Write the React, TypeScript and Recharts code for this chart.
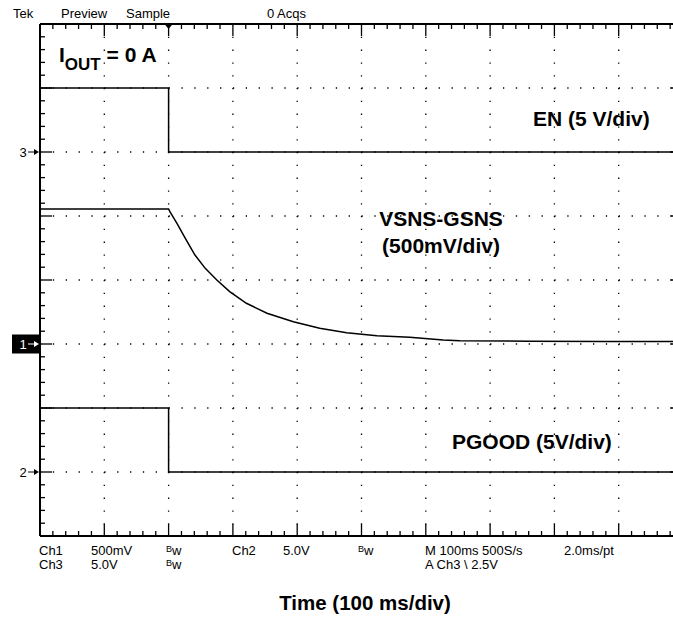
import { LineChart, Line, XAxis, YAxis, CartesianGrid, ReferenceDot, ReferenceLine } from 'recharts';

// scope time base: 100 ms/div, 10 divisions; 8 vertical divisions
const majorTimeTicks = [0, 100, 200, 300, 400, 500, 600, 700, 800, 900, 1000];
const minorTimeTicks = Array.from({ length: 51 }, (_, i) => i * 20);
const majorDivTicks = [0, 1, 2, 3, 4, 5, 6, 7, 8];
const minorDivTicks = Array.from({ length: 41 }, (_, i) => Math.round(i * 2) / 10);

// channel order: EN (ch3), VSNS-GSNS (ch1), PGOOD (ch2)
const channelMarkers = ['3', '1', '2'];
const channelRefDivs = [6, 3, 1];
const channelVoltsPerDiv = [5, 0.5, 5];
const selectedMarker = '1';

const enTimeMs = [0, 200, 200, 1000];
const enVolts = [5, 5, 0, 0];

const vsnsTimeMs = [0, 200, 202, 213, 226, 241, 257, 275, 295, 321, 353, 394, 435, 477, 524, 575, 627, 653, 760, 880, 1000];
const vsnsVolts = [1.055, 1.055, 1.034, 0.943, 0.826, 0.695, 0.591, 0.5, 0.409, 0.318, 0.24, 0.174, 0.123, 0.088, 0.065, 0.052, 0.031, 0.026, 0.022, 0.02, 0.02];

const pgoodTimeMs = [0, 200, 200, 1000];
const pgoodVolts = [5, 5, 0, 0];

const triggerTimeMs = 200;

const toTrace = (times: number[], volts: number[], ch: number) =>
  times.map((t, i) => ({ t, div: channelRefDivs[ch] + volts[i] / channelVoltsPerDiv[ch] }));

const enData = toTrace(enTimeMs, enVolts, 0);
const vsnsData = toTrace(vsnsTimeMs, vsnsVolts, 1);
const pgoodData = toTrace(pgoodTimeMs, pgoodVolts, 2);

const FRAME = '#000';
const SCOPE_FONT = '"Liberation Sans", Arial, sans-serif';

const isMajor = (v: number) => Math.abs(v - Math.round(v)) < 1e-6;

// tick marks on the graticule frame point inward; longer at each division
const makeEdgeTick = (dx: number, dy: number, perDiv: number) => (props: any) => {
  const { x, y, payload } = props;
  const len = isMajor(payload.value / perDiv) ? 12 : 5;
  return <line x1={x} y1={y} x2={x + dx * len} y2={y + dy * len} stroke={FRAME} strokeWidth={1.3} />;
};

const BottomTick = makeEdgeTick(0, -1, 100);
const TopTick = makeEdgeTick(0, 1, 100);
const LeftTick = makeEdgeTick(1, 0, 1);
const RightTick = makeEdgeTick(-1, 0, 1);

const ChannelMarker = (props: any) => {
  const { cx, cy, label } = props;
  const selected = label === selectedMarker;
  const color = selected ? '#fff' : '#000';
  return (
    <g>
      {selected && <rect x={cx - 28} y={cy - 9.5} width={27} height={19} fill="#000" />}
      <text x={cx - 17} y={cy + 4.5} textAnchor="middle" fontSize={13} fontFamily={SCOPE_FONT} fill={color}>
        {label}
      </text>
      <line x1={cx - 12} x2={cx - 3} y1={cy} y2={cy} stroke={color} strokeWidth={1} />
      <path d={`M${cx - 6},${cy - 3}L${cx - 1},${cy}L${cx - 6},${cy + 3}Z`} fill={color} />
    </g>
  );
};

const TriggerMark = (props: any) => {
  const { cx, cy } = props;
  return <path d={`M${cx - 5},${cy - 1}L${cx + 5},${cy - 1}L${cx},${cy + 5}Z`} fill="#000" />;
};

const edgeAxis = {
  type: 'number' as const,
  axisLine: false,
  tickLine: false,
  tickSize: 0,
  tickMargin: 0,
  mirror: true,
  interval: 0 as const,
  allowDataOverflow: true,
};

function Bw({ x, y }: { x: number; y: number }) {
  return (
    <text x={x} y={y} fontSize={13} fontFamily={SCOPE_FONT}>
      <tspan fontSize={9} dy={-3}>B</tspan>
      <tspan dy={3}>w</tspan>
    </text>
  );
}

export default function App() {
  return (
    <div style={{ position: 'absolute', left: 0, top: 0, width: 673, height: 618, overflow: 'hidden', background: '#fff' }}>
      <LineChart width={690} height={618} margin={{ top: 24, right: 7, bottom: 82, left: 40 }}>
        <XAxis {...edgeAxis} dataKey="t" domain={[0, 1000]} ticks={minorTimeTicks} orientation="bottom" height={1} tick={<BottomTick />} />
        <XAxis {...edgeAxis} xAxisId="top" dataKey="t" domain={[0, 1000]} ticks={minorTimeTicks} orientation="top" height={1} tick={<TopTick />} />
        <YAxis {...edgeAxis} domain={[0, 8]} ticks={minorDivTicks} orientation="left" width={1} tick={<LeftTick />} />
        <YAxis {...edgeAxis} yAxisId="right" domain={[0, 8]} ticks={minorDivTicks} orientation="right" width={1} tick={<RightTick />} />
        <CartesianGrid vertical={false} horizontalValues={majorDivTicks} stroke="#000" strokeWidth={1.3} strokeDasharray="1.3 11.56" />
        <CartesianGrid horizontal={false} verticalValues={majorTimeTicks} stroke="#000" strokeWidth={1.3} strokeDasharray="1.3 11.5" />
        <ReferenceLine x={0} stroke={FRAME} strokeWidth={2} />
        <ReferenceLine x={1000} stroke={FRAME} strokeWidth={2} />
        <ReferenceLine y={0} stroke={FRAME} strokeWidth={2} />
        <ReferenceLine y={8} stroke={FRAME} strokeWidth={2} />
        <Line data={enData} dataKey="div" type="linear" stroke="#000" strokeWidth={1.5} dot={false} isAnimationActive={false} />
        <Line data={vsnsData} dataKey="div" type="linear" stroke="#000" strokeWidth={1.5} dot={false} isAnimationActive={false} />
        <Line data={pgoodData} dataKey="div" type="linear" stroke="#000" strokeWidth={1.5} dot={false} isAnimationActive={false} />
        <ReferenceDot x={triggerTimeMs} y={8} ifOverflow="visible" shape={TriggerMark} />
        {channelRefDivs.map((d, i) => (
          <ReferenceDot
            key={channelMarkers[i]}
            x={0}
            y={d}
            ifOverflow="visible"
            shape={(p: any) => <ChannelMarker {...p} label={channelMarkers[i]} />}
          />
        ))}
      </LineChart>

      <svg width={673} height={618} style={{ position: 'absolute', left: 0, top: 0, pointerEvents: 'none' }}>
        <g fontFamily={SCOPE_FONT} fontSize={13} fill="#000">
          <text x={13} y={18}>Tek</text>
          <text x={61} y={18}>Preview</text>
          <text x={126} y={18}>Sample</text>
          <text x={267} y={18}>0 Acqs</text>

          <text x={39} y={555}>Ch1</text>
          <text x={91} y={555}>500mV</text>
          <text x={232} y={555}>Ch2</text>
          <text x={283} y={555}>5.0V</text>
          <text x={425} y={555}>M 100ms 500S/s</text>
          <text x={564} y={555}>2.0ms/pt</text>
          <text x={39} y={569}>Ch3</text>
          <text x={91} y={569}>5.0V</text>
          <text x={425} y={569}>A  Ch3  \  2.5V</text>
        </g>
        <Bw x={166} y={555} />
        <Bw x={166} y={569} />
        <Bw x={358} y={555} />

        <g fontFamily={SCOPE_FONT} fontWeight="bold" fontSize={21} fill="#000">
          <text x={59} y={61.5}>
            I<tspan fontSize={17} dy={8}>OUT</tspan>
            <tspan dy={-8}> = 0 A</tspan>
          </text>
          <text x={533} y={126}>EN (5 V/div)</text>
          <text x={441} y={226} textAnchor="middle">VSNS-GSNS</text>
          <text x={441} y={253} textAnchor="middle">(500mV/div)</text>
          <text x={452} y={449}>PGOOD (5V/div)</text>
          <text x={365} y={610} textAnchor="middle" fontSize={20.5}>Time (100 ms/div)</text>
        </g>
      </svg>
    </div>
  );
}
